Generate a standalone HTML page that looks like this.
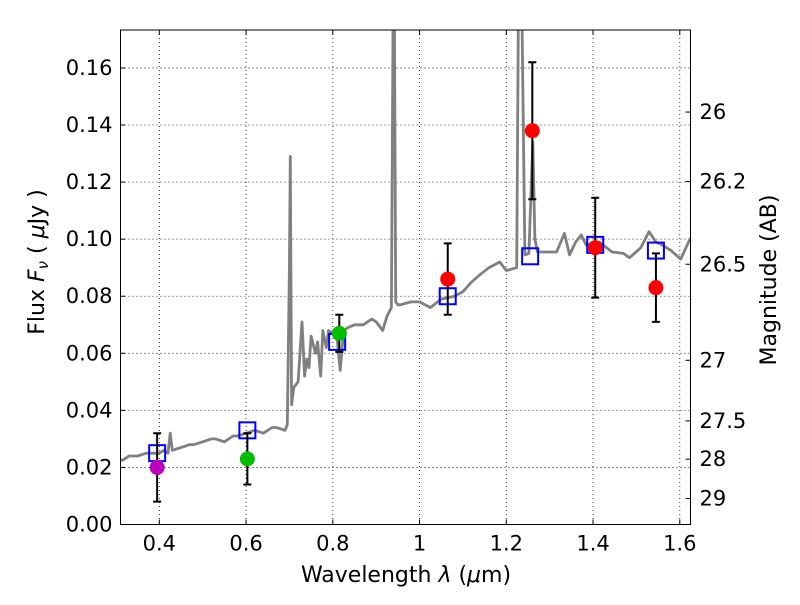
<!DOCTYPE html>
<html><head><meta charset="utf-8"><style>
body{margin:0;background:#fff;}
svg{font-family:"DejaVu Sans","Liberation Sans",sans-serif;}
</style></head><body>
<svg id="c" width="800" height="600"></svg>
<script>
const specLam=[0.305,0.315,0.33,0.35,0.37,0.38,0.40,0.41,0.42,0.425,0.43,0.45,0.47,0.48,0.50,0.52,0.53,0.55,0.57,0.58,0.60,0.62,0.64,0.66,0.67,0.69,0.695,0.700,0.702,0.705,0.71,0.72,0.729,0.735,0.74,0.745,0.75,0.76,0.765,0.772,0.777,0.785,0.79,0.80,0.81,0.817,0.825,0.835,0.85,0.87,0.89,0.90,0.915,0.925,0.935,0.939,0.942,0.945,0.95,0.956,0.98,1.0,1.025,1.05,1.08,1.10,1.12,1.139,1.16,1.185,1.2,1.224,1.228,1.231,1.236,1.243,1.252,1.261,1.266,1.272,1.3,1.316,1.334,1.346,1.36,1.373,1.384,1.414,1.444,1.47,1.484,1.51,1.529,1.545,1.559,1.58,1.602,1.625];
const specF=[0.023,0.0225,0.024,0.024,0.025,0.025,0.025,0.026,0.025,0.032,0.026,0.027,0.028,0.028,0.029,0.030,0.030,0.029,0.031,0.031,0.032,0.033,0.032,0.034,0.034,0.033,0.035,0.090,0.129,0.042,0.048,0.050,0.071,0.052,0.058,0.055,0.066,0.060,0.064,0.052,0.068,0.062,0.068,0.067,0.065,0.054,0.068,0.069,0.070,0.070,0.072,0.071,0.068,0.073,0.076,0.18,0.18,0.078,0.077,0.077,0.078,0.078,0.076,0.079,0.080,0.0816,0.085,0.0875,0.090,0.092,0.089,0.090,0.18,0.18,0.18,0.0945,0.095,0.134,0.100,0.0955,0.0955,0.0955,0.102,0.0945,0.099,0.1015,0.098,0.099,0.0955,0.095,0.0935,0.097,0.1026,0.099,0.098,0.096,0.093,0.1005];
const modelLam=[0.395,0.603,0.81,1.065,1.255,1.405,1.545];
const modelF=[0.025,0.033,0.064,0.080,0.094,0.098,0.096];
const obsLam=[0.395,0.603,0.815,1.065,1.26,1.405,1.545];
const obsF=[0.020,0.023,0.067,0.086,0.138,0.097,0.083];
const obsErr=[0.012,0.009,0.0065,0.0125,0.024,0.0175,0.012];
const obsColor=['#bf00bf','#00bf00','#00bf00','#ff0000','#ff0000','#ff0000','#ff0000'];
const xTicks=[0.4,0.6,0.8,1.0,1.2,1.4,1.6];
const xTickLabels=['0.4','0.6','0.8','1','1.2','1.4','1.6'];
const yTicks=[0,0.02,0.04,0.06,0.08,0.1,0.12,0.14,0.16];
const yTickLabels=['0.00','0.02','0.04','0.06','0.08','0.10','0.12','0.14','0.16'];
const magTicks=[26,26.2,26.5,27,27.5,28,29];
const magLabels=['26','26.2','26.5','27','27.5','28','29'];

const L=120.5,R=690.5,T=30,B=524.5,X0=0.3105,X1=1.6247,Y0=0,Y1=0.1733;
const sx=v=>L+(v-X0)/(X1-X0)*(R-L);
const sy=v=>B-(v-Y0)/(Y1-Y0)*(B-T);
const svg=document.getElementById('c');
const NS='http://www.w3.org/2000/svg';
function mk(tag,at,txt){const e=document.createElementNS(NS,tag);for(const k in at)e.setAttribute(k,at[k]);if(txt!==undefined)e.textContent=txt;svg.appendChild(e);return e;}
const cp=document.createElementNS(NS,'clipPath');cp.setAttribute('id','clip');
const cr=document.createElementNS(NS,'rect');cr.setAttribute('x',L);cr.setAttribute('y',T);cr.setAttribute('width',R-L);cr.setAttribute('height',B-T);cp.appendChild(cr);svg.appendChild(cp);

xTicks.forEach((t,i)=>{
 const g=mk('line',{x1:sx(t),x2:sx(t),y1:T,y2:B,stroke:'#000','stroke-width':0.8,'stroke-dasharray':'1,3'});
 
 mk('line',{x1:sx(t),x2:sx(t),y1:B,y2:B-5,stroke:'#000'});
 mk('line',{x1:sx(t),x2:sx(t),y1:T,y2:T+5,stroke:'#000'});
 const l=mk('text',{x:sx(t),y:B+26,'text-anchor':'middle','font-size':21},xTickLabels[i]);
 
});
yTicks.forEach((t,i)=>{
 if(t>0){const g=mk('line',{x1:L,x2:R,y1:sy(t),y2:sy(t),stroke:'#000','stroke-width':0.8,'stroke-dasharray':'1,3'});
 }
 mk('line',{x1:L,x2:L+5,y1:sy(t),y2:sy(t),stroke:'#000'});
 const l=mk('text',{x:L-8,y:sy(t)+7,'text-anchor':'end','font-size':21},yTickLabels[i]);
 
});
magTicks.forEach((m,i)=>{
 const y=sy(Math.pow(10,(23.9-m)/2.5));
 mk('line',{x1:R,x2:R-5,y1:y,y2:y,stroke:'#000'});
 const l=mk('text',{x:R+9,y:y+7,'font-size':21},magLabels[i]);
 
});
let d='';specLam.forEach((v,i)=>{d+=(i?'L':'M')+sx(v).toFixed(1)+','+sy(specF[i]).toFixed(1);});
const sp=mk('path',{d:d,fill:'none',stroke:'#808080','stroke-width':2.8,'clip-path':'url(#clip)','stroke-linejoin':'round'});

modelLam.forEach((v,i)=>{
 const s=mk('rect',{x:sx(v)-8,y:sy(modelF[i])-8,width:16,height:16,fill:'none',stroke:'#0000ff','stroke-width':2});
 
});
obsLam.forEach((v,i)=>{
 const x=sx(v),yt=sy(obsF[i]+obsErr[i]),yb=sy(obsF[i]-obsErr[i]);
 const e=mk('path',{d:`M${x},${yt}L${x},${yb}M${x-4},${yt}L${x+4},${yt}M${x-4},${yb}L${x+4},${yb}`,stroke:'#000','stroke-width':2});
 
 const c=mk('circle',{cx:x,cy:sy(obsF[i]),r:7.5,fill:obsColor[i]});
 
});
const fr=mk('rect',{x:L,y:T,width:R-L,height:B-T,fill:'none',stroke:'#000','stroke-width':1});

const xt=mk('text',{x:406,y:582,'text-anchor':'middle','font-size':22,'xml:space':'preserve'});
xt.innerHTML='Wavelength  <tspan font-style="italic">λ</tspan> (<tspan font-style="italic">μ</tspan>m)';

const yt=mk('text',{x:44,y:262,'text-anchor':'middle','font-size':22,transform:'rotate(-90 44 262)','xml:space':'preserve'});
yt.innerHTML='Flux  <tspan font-style="italic">F</tspan><tspan font-style="italic" font-size="15" dy="4">ν</tspan><tspan dy="-4">  ( </tspan><tspan font-style="italic">μ</tspan>Jy )';

const rt=mk('text',{x:776,y:280,'text-anchor':'middle','font-size':22,transform:'rotate(-90 776 280)'},'Magnitude (AB)');

</script>
</body></html>
